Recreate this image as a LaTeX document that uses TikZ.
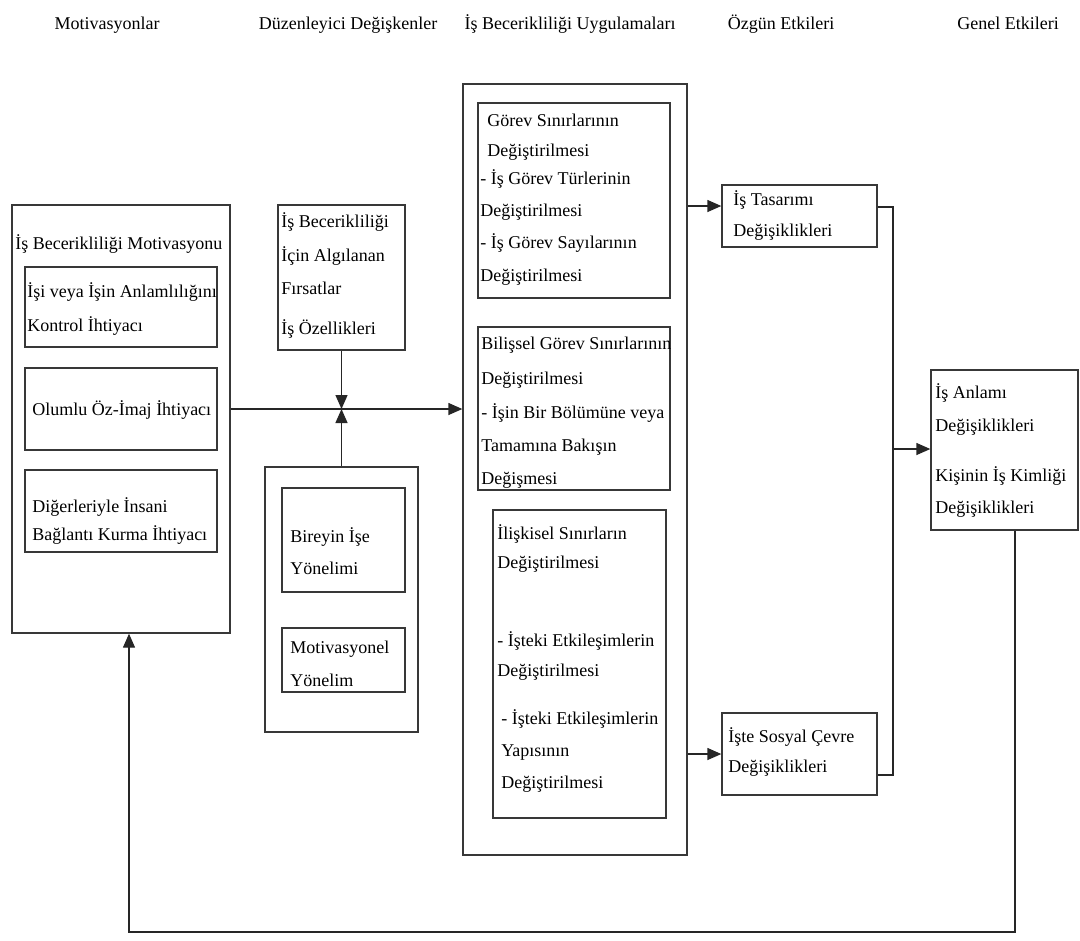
\documentclass[tikz,border=0pt]{standalone}
\usepackage{fontspec}
\setmainfont{Liberation Serif}
\usetikzlibrary{arrows.meta,calc,fit}
\begin{document}
\begin{tikzpicture}[x=0.75pt,y=-0.75pt,
  box/.style={draw=black!78,line width=1pt,inner sep=0pt,fit={#1}},
  lbl/.style={anchor=base west,inner sep=0pt,font=\fontsize{13.5}{16}\selectfont},
  head/.style={anchor=base,inner sep=0pt,font=\fontsize{13.5}{16}\selectfont},
  link/.style={draw=black!85,line width=1pt},
  arr/.style={link,-{Triangle[length=10.5pt,width=9pt]}}]
\useasboundingbox (0,0) rectangle (1080,940);

% column headings
\node[head] (h1) at (107,29) {Motivasyonlar};
\node[head] (h2) at (348,29) {Düzenleyici Değişkenler};
\node[head] (h3) at (570,29) {İş Becerikliliği Uygulamaları};
\node[head] (h4) at (781,29) {Özgün Etkileri};
\node[head] (h5) at (1008,29) {Genel Etkileri};

% motivations
\node[box={(12,205) (230,633)}] (L) {};
\node[lbl] (Lt) at (15,249) {İş Becerikliliği Motivasyonu};
\node[box={(25,267) (217,347)}] (L1) {};
\node[lbl] (L1a) at (27,297) {İşi veya İşin Anlamlılığını};
\node[lbl] (L1b) at (27,331) {Kontrol İhtiyacı};
\node[box={(25,368) (217,450)}] (L2) {};
\node[lbl] (L2a) at (32,415) {Olumlu Öz-İmaj İhtiyacı};
\node[box={(25,470) (217,552)}] (L3) {};
\node[lbl] (L3a) at (32,512) {Diğerleriyle İnsani};
\node[lbl] (L3b) at (32,540) {Bağlantı Kurma İhtiyacı};

% moderating variables
\node[box={(278,205) (405,350)}] (M1) {};
\foreach \y/\t [count=\i] in {227/İş Becerikliliği,261/İçin Algılanan,294/Fırsatlar,334/İş Özellikleri}
  \node[lbl] (M1-\i) at (281,\y) {\t};
\node[box={(265,467) (418,732)}] (M2) {};
\node[box={(282,488) (405,592)}] (M2a) {};
\node[lbl] (M2a1) at (290,542) {Bireyin İşe};
\node[lbl] (M2a2) at (290,574) {Yönelimi};
\node[box={(282,628) (405,692)}] (M2b) {};
\node[lbl] (M2b1) at (290,653) {Motivasyonel};
\node[lbl] (M2b2) at (290,686) {Yönelim};

% crafting practices
\node[box={(463,84) (687,855)}] (B) {};
\node[box={(478,103) (670,298)}] (G1) {};
\foreach \x/\y/\t [count=\i] in {487/126/Görev Sınırlarının,487/156/Değiştirilmesi,480/184/- İş Görev Türlerinin,480/216/Değiştirilmesi,480/248/- İş Görev Sayılarının,480/281/Değiştirilmesi}
  \node[lbl] (G1-\i) at (\x,\y) {\t};
\node[box={(478,327) (670,490)}] (G2) {};
\foreach \y/\t [count=\i] in {349/Bilişsel Görev Sınırlarının,384/Değiştirilmesi,418/- İşin Bir Bölümüne veya,451/Tamamına Bakışın,484/Değişmesi}
  \node[lbl] (G2-\i) at (481,\y) {\t};
\node[box={(493,510) (666,818)}] (G3) {};
\foreach \x/\y/\t [count=\i] in {497/539/İlişkisel Sınırların,497/568/Değiştirilmesi,497/646/- İşteki Etkileşimlerin,497/676/Değiştirilmesi,501/724/- İşteki Etkileşimlerin,501/756/Yapısının,501/788/Değiştirilmesi}
  \node[lbl] (G3-\i) at (\x,\y) {\t};

% specific effects
\node[box={(722,185) (877,247)}] (E1) {};
\node[lbl] (E1a) at (733,205) {İş Tasarımı};
\node[lbl] (E1b) at (733,236) {Değişiklikleri};
\node[box={(722,713) (877,795)}] (E2) {};
\node[lbl] (E2a) at (728,742) {İşte Sosyal Çevre};
\node[lbl] (E2b) at (728,772) {Değişiklikleri};

% general effects
\node[box={(931,370) (1078,530)}] (R) {};
\foreach \y/\t [count=\i] in {398/İş Anlamı,431/Değişiklikleri,481/Kişinin İş Kimliği,513/Değişiklikleri}
  \node[lbl] (R-\i) at (935,\y) {\t};

% connectors
\coordinate (e1in) at ($(E1.west)+(0,-10)$);
\coordinate (e1out) at ($(E1.east)+(0,-9)$);
\coordinate (e2out) at ($(E2.east)+(0,21)$);
\coordinate (jx) at (893,449);
\coordinate (fb) at (1015,932);
\coordinate (fbl) at (129,932);
\draw[arr] (L2 -| L.east) -- (L2 -| B.west);
\draw[arr] (M1.south) -- (M1.south |- L2);
\draw[arr] (M2.north) -- (M2.north |- L2);
\draw[arr] (e1in -| B.east) -- (e1in);
\draw[arr] (E2.west -| B.east) -- (E2.west);
\draw[link] (e1out) -| (jx) |- (e2out);
\draw[arr] (jx) -- (jx -| R.west);
\draw[arr] (fb |- R.south) -- (fb) -- (fbl) -- (fbl |- L.south);
\end{tikzpicture}
\end{document}
